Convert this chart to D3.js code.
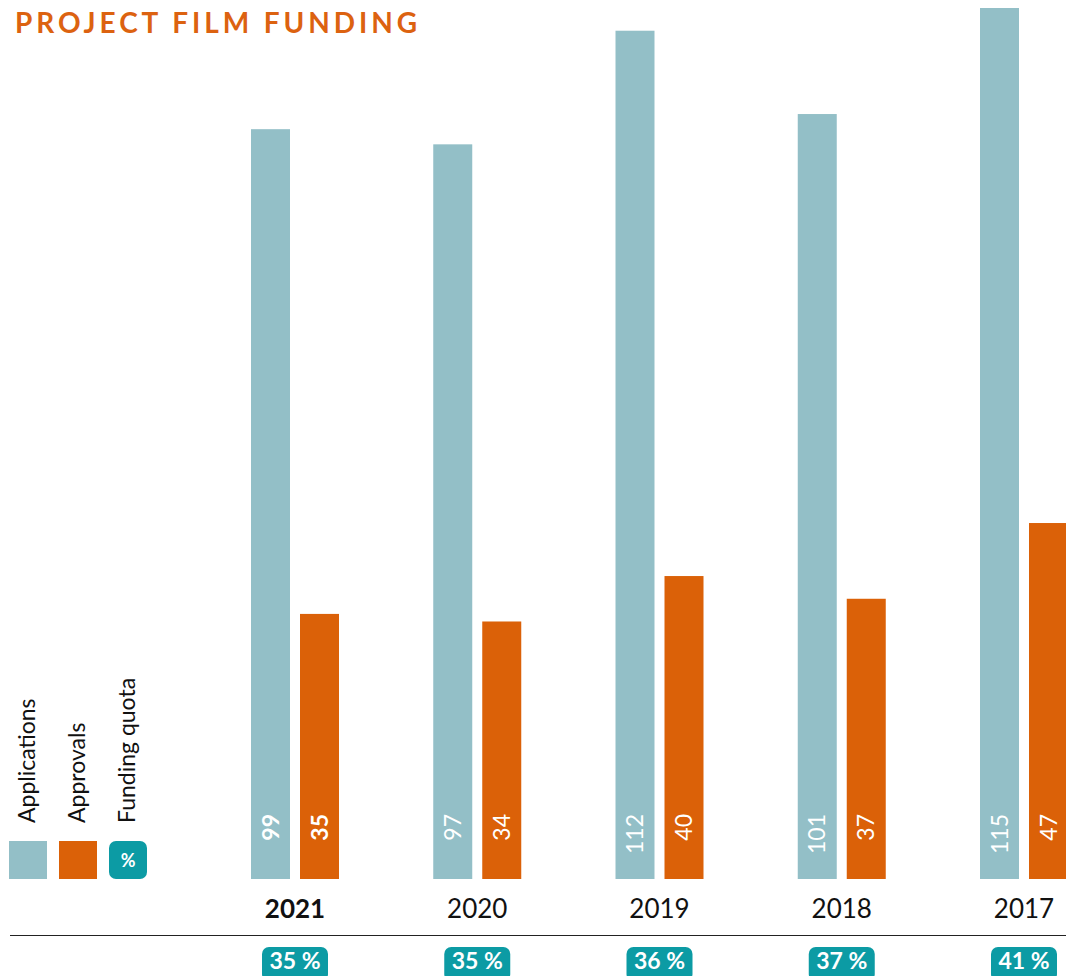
<!DOCTYPE html>
<html>
<head>
<meta charset="utf-8">
<script src="https://cdn.jsdelivr.net/npm/d3@7"></script>
<style>
  html, body { margin: 0; padding: 0; background: #fff; }
  svg { display: block; font-family: Lato, "Open Sans", sans-serif; }
</style>
</head>
<body>
<svg id="chart" width="1066" height="976"></svg>
<script>
// data
const years = ['2021', '2020', '2019', '2018', '2017'];
const applications = [99, 97, 112, 101, 115];
const approvals = [35, 34, 40, 37, 47];
const fundingQuota = [35, 35, 36, 37, 41];
const seriesNames = ['Applications', 'Approvals'];
const legendLabels = ['Applications', 'Approvals', 'Funding quota'];

const colors = { Applications: '#93bfc7', Approvals: '#db6108', quota: '#0c9ba4', title: '#dc6210' };

const width = 1066, height = 976;
const baseY = 879;

const svg = d3.select('#chart');

// title
svg.append('text')
  .attr('x', 15).attr('y', 33)
  .attr('fill', colors.title)
  .attr('font-size', 28).attr('font-weight', 700)
  .attr('textLength', 402).attr('lengthAdjust', 'spacing')
  .text('PROJECT FILM FUNDING');

// scales
const x = d3.scalePoint().domain(years).range([295, 1024]);
const xSub = d3.scaleBand().domain(seriesNames).range([-44, 44]).paddingInner(10 / 49);
const y = d3.scaleLinear().domain([0, 115]).range([baseY, 8]);

const rows = years.map((yr, i) => ({
  year: yr,
  values: [
    { key: 'Applications', v: applications[i] },
    { key: 'Approvals', v: approvals[i] }
  ],
  quota: fundingQuota[i],
  bold: i === 0
}));

const groups = svg.selectAll('.group')
  .data(rows)
  .join('g')
  .attr('class', 'group')
  .attr('transform', d => `translate(${x(d.year)},0)`);

const bars = groups.selectAll('.bar')
  .data(d => d.values.map(v => ({ ...v, bold: d.bold })))
  .join('g')
  .attr('class', 'bar');

bars.append('rect')
  .attr('x', d => xSub(d.key))
  .attr('width', xSub.bandwidth())
  .attr('y', d => y(d.v))
  .attr('height', d => baseY - y(d.v))
  .attr('fill', d => colors[d.key]);

// value labels, rotated, inside the bars
bars.append('text')
  .attr('transform', d => `translate(${xSub(d.key) + xSub.bandwidth() / 2 + 8},814) rotate(-90)`)
  .attr('text-anchor', 'end')
  .attr('fill', '#fff')
  .attr('font-size', 23)
  .attr('font-weight', d => d.bold ? 700 : 400)
  .text(d => d.v);

// year labels
groups.append('text')
  .attr('y', 918)
  .attr('text-anchor', 'middle')
  .attr('fill', '#111')
  .attr('font-size', 26)
  .attr('font-weight', d => d.bold ? 700 : 400)
  .text(d => d.year);

// divider line
svg.append('line')
  .attr('x1', 10).attr('x2', width)
  .attr('y1', 935.5).attr('y2', 935.5)
  .attr('stroke', '#222').attr('stroke-width', 1.2);

// funding quota badges (running into the lower edge, as in the original)
groups.append('rect')
  .attr('x', -33).attr('y', 947)
  .attr('width', 66).attr('height', 34)
  .attr('rx', 7)
  .attr('fill', colors.quota);

groups.append('text')
  .attr('y', 969)
  .attr('text-anchor', 'middle')
  .attr('fill', '#fff')
  .attr('font-size', 23).attr('font-weight', 700)
  .text(d => d.quota + ' %');

// legend
const legX = d3.scalePoint().domain(legendLabels).range([28, 128]);
const legend = svg.selectAll('.legend')
  .data(legendLabels)
  .join('g')
  .attr('class', 'legend')
  .attr('transform', d => `translate(${legX(d)},0)`);

legend.append('rect')
  .attr('x', -19).attr('y', 841)
  .attr('width', 38).attr('height', 38)
  .attr('rx', (d, i) => i === 2 ? 7 : 0)
  .attr('fill', (d, i) => i === 2 ? colors.quota : colors[d]);

legend.filter((d, i) => i === 2).append('text')
  .attr('y', 867)
  .attr('text-anchor', 'middle')
  .attr('fill', '#fff')
  .attr('font-size', 18).attr('font-weight', 700)
  .text('%');

legend.append('text')
  .attr('transform', 'translate(7,823) rotate(-90)')
  .attr('text-anchor', 'start')
  .attr('fill', '#111')
  .attr('font-size', 23)
  .text(d => d);
</script>
</body>
</html>
